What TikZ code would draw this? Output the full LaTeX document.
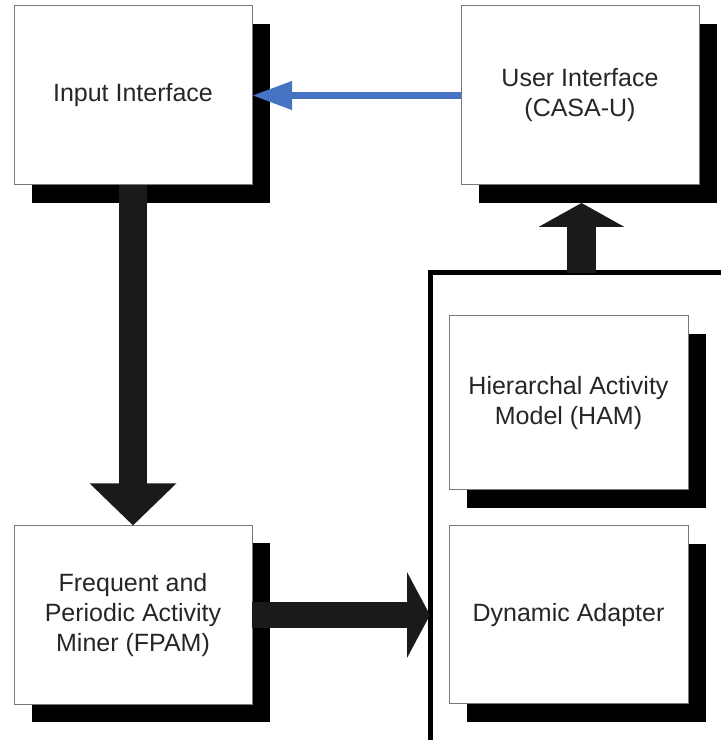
\documentclass[tikz,border=0pt]{standalone}
\usepackage{fontspec}
\setmainfont{Liberation Sans}
\usetikzlibrary{arrows.meta,shadows,calc}
\definecolor{flowblue}{RGB}{70,115,195}
\definecolor{boxedge}{RGB}{120,120,120}
\definecolor{arrowfill}{RGB}{26,26,26}
\tikzset{
  module/.style={draw=boxedge, line width=1pt, fill=white, outer sep=0pt,
    minimum width=238pt, minimum height=179pt, align=center,
    text=black!85, font=\fontsize{25}{30}\selectfont,
    drop shadow={shadow xshift=18pt, shadow yshift=-18pt, fill=black, opacity=1}},
  bigflow/.style={line width=#1, draw=arrowfill},
  group/.style={draw=black, line width=5pt, outer sep=0pt, anchor=north west,
    minimum width=310pt, minimum height=490pt}
}
\begin{document}
\begin{tikzpicture}[x=1pt,y=1pt]
  \useasboundingbox[fill=white] (0,0) rectangle (721,740);

  % subsystem frame, running off the page at right and bottom
  \node[group] (grp) at (430,467) {};

  % modules
  \node[module] (inp)  at (133,644.5) {Input Interface};
  \node[module] (ui)   at (580,644.5) {User Interface\\(CASA-U)};
  \node[module] (fpam) at (133,125)   {Frequent and\\Periodic Activity\\Miner (FPAM)};
  \node[module, minimum width=239pt, minimum height=174pt] (ham) at (568.5,337) {Hierarchal Activity\\Model (HAM)};
  \node[module, minimum width=239pt, minimum height=178pt] (da)  at (568.5,125) {Dynamic Adapter};

  % data flow arrows
  \draw[bigflow=28pt, -{Triangle[width=84pt,length=42pt]}, arrowfill]
    (inp.south) -- (fpam.north);
  \draw[bigflow=26pt, -{Triangle[width=85pt,length=23pt]}, arrowfill]
    (fpam.east) -- (fpam.east -| grp.west);
  \draw[bigflow=29pt, -{Triangle[width=85pt,length=24pt]}, arrowfill]
    ($(grp.north -| ui.south)+(1.5,0)$) -- ($(ui.south)+(1.5,-18)$);
  \draw[line width=7pt, draw=flowblue, -{Triangle[width=27pt,length=40pt]}, flowblue]
    (ui.west) -- (inp.east);
\end{tikzpicture}
\end{document}
